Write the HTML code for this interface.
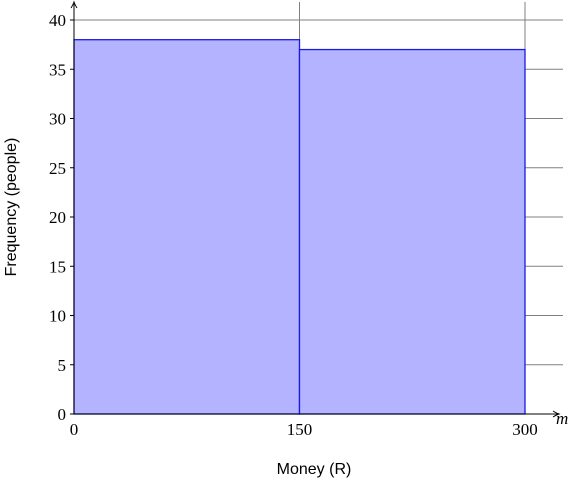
<!DOCTYPE html>
<html><head><meta charset="utf-8"><style>
body{margin:0;background:#fff}
svg text{font-family:"Liberation Serif",serif;font-size:17px;fill:#000}
.sans{font-family:"Liberation Sans",sans-serif !important;font-size:16px !important}
</style></head><body>
<svg id="chart" width="571" height="480" viewBox="0 0 571 480" xmlns="http://www.w3.org/2000/svg">
<g id="grid"></g><g id="bars"></g><g id="axes"></g><g id="labels"></g>
</svg>
<script>
const binEdges=[0,150,300];
const frequencies=[38,37];
const yTicks=[0,5,10,15,20,25,30,35,40];
const xTicks=[0,150,300];
const NS="http://www.w3.org/2000/svg";
const x=v=>74+(v/300)*451;
const y=v=>414-(v/40)*394;
function mk(p,t,a){const e=document.createElementNS(NS,t);for(const k in a)e.setAttribute(k,a[k]);document.getElementById(p).appendChild(e);return e;}
yTicks.forEach(t=>{if(t===0)return;
const l=mk('grid','line',{x1:74,x2:563,y1:y(t),y2:y(t),stroke:'#808080','stroke-width':1});

});
xTicks.forEach(t=>{if(t===0)return;
const l=mk('grid','line',{x1:x(t),x2:x(t),y1:2,y2:414,stroke:'#808080','stroke-width':1});

});
frequencies.forEach((f,i)=>{
const r=mk('bars','rect',{x:x(binEdges[i]),y:y(f),width:x(binEdges[i+1])-x(binEdges[i]),height:y(0)-y(f),fill:'#b3b3ff',stroke:'#1a1ae0','stroke-width':1.3});

});
const ya=mk('axes','line',{x1:74,x2:74,y1:414,y2:4,stroke:'#000','stroke-width':1});


const xa=mk('axes','line',{x1:74,x2:558,y1:414,y2:414,stroke:'#000','stroke-width':1});


mk('axes','path',{d:'M71,8 Q73,5 74,2 Q75,5 77,8',fill:'none',stroke:'#000'});
mk('axes','path',{d:'M553,411 Q556,413 559,414 Q556,415 553,417',fill:'none',stroke:'#000'});
yTicks.forEach(t=>{
const l=mk('axes','line',{x1:70,x2:74,y1:y(t),y2:y(t),stroke:'#000'});
const tx=mk('labels','text',{x:66,y:y(t)+6,'text-anchor':'end'});tx.textContent=t;

});
xTicks.forEach(t=>{
const tx=mk('labels','text',{x:x(t),y:435,'text-anchor':'middle'});tx.textContent=t;

});
const m=mk('labels','text',{x:556,y:424,'font-style':'italic'});m.textContent='m';


const xt=mk('labels','text',{x:314,y:474,'text-anchor':'middle',class:'sans'});xt.textContent='Money (R)';


const yt=mk('labels','text',{x:0,y:0,'text-anchor':'middle',class:'sans',transform:'translate(16,207) rotate(-90)'});yt.textContent='Frequency (people)';


</script>
</body></html>
